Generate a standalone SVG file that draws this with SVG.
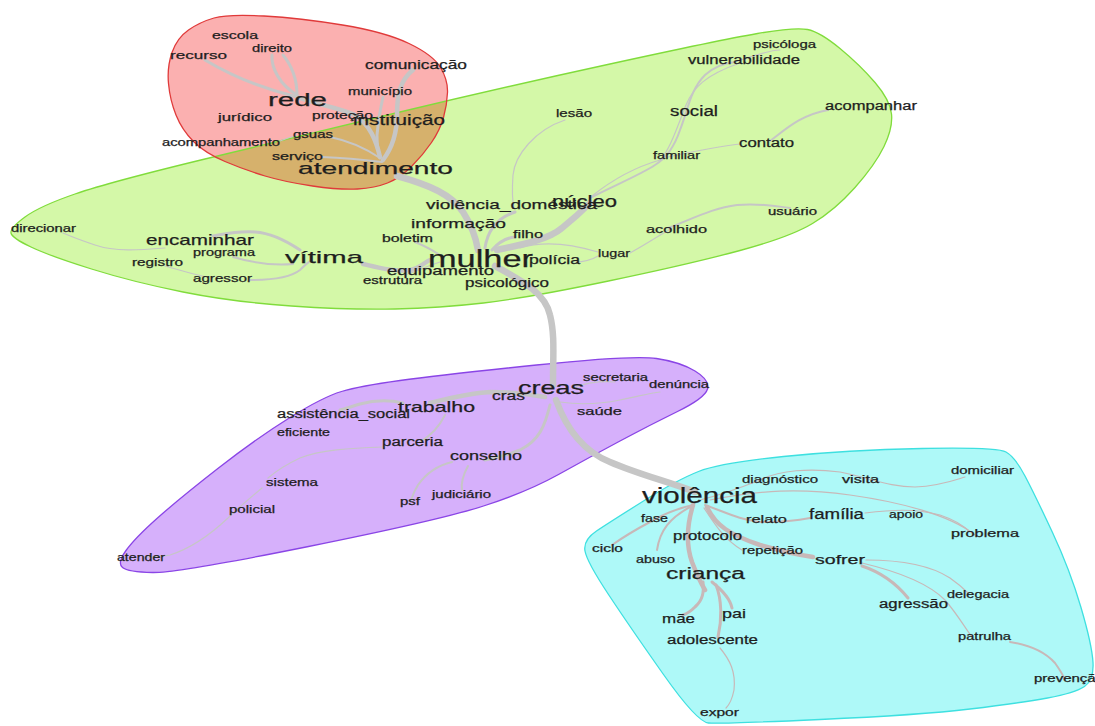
<svg xmlns="http://www.w3.org/2000/svg" width="1095" height="726" viewBox="0 0 1095 726">
<style>
text{font-family:"Liberation Sans",Arial,sans-serif;fill:#1e1e1e;stroke:#1e1e1e;stroke-width:0.25}
.e{fill:none;stroke:#c6c6c6;stroke-linecap:round}
.c .e{stroke:#c8b8b8}
.w1{stroke-width:1.2}.w2{stroke-width:2}.w3{stroke-width:3}.w4{stroke-width:4.5}.w6{stroke-width:6.5}
</style>
<defs>
<path id="gb" d="M 11,233 Q 10,228 25,217 Q 40,206 75,194 Q 110,182 205,159 Q 300,136 400,112 Q 500,88 610,64 Q 720,40 757.5,33.5 Q 795,27 807.5,29.5 Q 820,32 840,48.5 Q 860,65 875,82.5 Q 890,100 891.5,114 Q 893,128 884,146.5 Q 875,165 855,187.5 Q 835,210 812.5,223.5 Q 790,237 740,250.5 Q 690,264 608.5,281 Q 527,298 483.5,303 Q 440,308 395,309 Q 350,310 291.5,306 Q 233,302 183,292 Q 133,282 91.5,269 Q 50,256 31,247 Q 12,238 11,233 Z"/>
<path id="rb" d="M 168.5,83.5 Q 167,67 172,52.5 Q 177,38 188.5,30 Q 200,22 214,18 Q 228,14 264,16 Q 300,18 342.5,25 Q 385,32 409,43.5 Q 433,55 440.5,67.5 Q 448,80 447.5,92.5 Q 447,105 443.5,117.5 Q 440,130 431.5,142.5 Q 423,155 411.5,166.5 Q 400,178 387.5,183 Q 375,188 357.5,189 Q 340,190 312.5,186 Q 285,182 265,176 Q 245,170 225,161.5 Q 205,153 193.5,141.5 Q 182,130 176,115 Q 170,100 168.5,83.5 Z"/>
<clipPath id="gclip"><use href="#gb"/></clipPath>
</defs>
<rect width="1095" height="726" fill="#fff"/>
<g id="clusters">
<use href="#rb" fill="#fbb0b0"/>
<use href="#gb" fill="#d4f8a8"/>
<use href="#rb" fill="#d6b16c" clip-path="url(#gclip)"/>
<use href="#gb" fill="none" stroke="#80dc3c" stroke-width="1.3"/>
<use href="#rb" fill="none" stroke="#e03a3a" stroke-width="1.3"/>
<path d="M 126,550.5 Q 135,538 157.5,518 Q 180,498 218.5,468 Q 257,438 290,417.5 Q 323,397 341.5,391.5 Q 360,386 400,380.5 Q 440,375 536.5,365 Q 633,355 656.5,358.5 Q 680,362 695,371 Q 710,380 707.5,389 Q 705,398 677.5,411.5 Q 650,425 620,441 Q 590,457 558.5,474.5 Q 527,492 483.5,506 Q 440,520 308.5,546.5 Q 177,573 152.5,572.5 Q 128,572 122.5,567.5 Q 117,563 126,550.5 Z" fill="#d6b0fb" stroke="#8a45e6" stroke-width="1.3"/>
<path d="M 585,551 Q 583,540 596.5,531 Q 610,522 643.5,501 Q 677,480 698.5,471.5 Q 720,463 783.5,456.5 Q 847,450 922,448.5 Q 997,447 1006,452 Q 1015,457 1025,476 Q 1035,495 1052.5,532.5 Q 1070,570 1081,607.5 Q 1092,645 1093,662.5 Q 1094,680 1084.5,686.5 Q 1075,693 1047.5,698 Q 1020,703 970,709 Q 920,715 820,719.5 Q 720,724 708.5,723 Q 697,722 663.5,674.5 Q 630,627 608.5,594.5 Q 587,562 585,551 Z" fill="#aef9f8" stroke="#3ee0e0" stroke-width="1.3"/>
</g>
<g id="connectors">
<g>
<path class="e w3" d="M 205,60 C 230,75 260,88 297,97"/>
<path class="e w3" d="M 272,55 C 271,68 280,85 297,95"/>
<path class="e w3" d="M 283,55 C 292,66 297,80 297,95"/>
<path class="e w4" d="M 297,97 C 315,104 340,108 355,115 C 370,125 376,140 380,157"/>
<path class="e w4" d="M 413,70 C 400,80 397,95 397,115 C 397,135 392,148 383,160"/>
<path class="e w3" d="M 383,97 C 380,110 378,125 377,135 C 377,145 378,152 380,158"/>
<path class="e w2" d="M 330,137 C 345,140 362,146 380,158"/>
<path class="e w1" d="M 280,141 C 285,139 290,137 295,136"/>
<path class="e w2" d="M 322,157 C 345,158 365,160 382,162"/>
<path class="e w6" d="M 397,176 C 430,185 452,195 463,212 C 472,226 476,238 478,250"/>
<path class="e w6" d="M 495,266 C 520,280 545,292 550,315 C 555,335 553,355 553,385"/>
<path class="e w6" d="M 497,250 C 520,245 548,240 562,228 C 572,220 580,213 590,203"/>
<path class="e w2" d="M 590,198 C 615,185 640,175 655,165 C 668,157 675,145 680,130 C 688,110 690,90 705,75 C 715,66 725,63 735,62"/>
<path class="e w1" d="M 592,196 C 612,180 632,168 660,160 C 670,150 678,125 686,105 C 693,88 705,75 740,63"/>
<path class="e w1" d="M 668,157 C 700,150 720,146 740,144"/>
<path class="e w2" d="M 770,141 C 785,130 800,115 828,110"/>
<path class="e w1" d="M 735,62 C 755,55 770,50 780,50"/>
<path class="e w1" d="M 565,120 C 535,130 515,155 513,175 C 512,190 512,200 514,208"/>
<path class="e w3" d="M 515,212 C 500,217 488,228 485,248"/>
<path class="e w3" d="M 515,237 C 505,238 498,243 492,250"/>
<path class="e w2" d="M 415,242 C 425,246 432,250 440,255"/>
<path class="e w1" d="M 520,248 C 545,240 575,245 598,252"/>
<path class="e w1" d="M 575,262 C 585,262 595,258 600,255"/>
<path class="e w1" d="M 630,253 C 645,245 660,235 672,228"/>
<path class="e w2" d="M 668,228 C 690,220 712,208 737,205 C 760,203 775,206 790,208"/>
<path class="e w4" d="M 363,264 C 380,268 395,272 410,270 C 420,268 425,262 430,260"/>
<path class="e w1" d="M 405,275 C 420,270 430,265 440,262"/>
<path class="e w3" d="M 300,250 C 285,240 270,233 255,232 C 235,231 225,234 213,236"/>
<path class="e w1" d="M 165,248 C 140,250 115,252 95,245 C 80,240 70,236 63,233"/>
<path class="e w2" d="M 233,257 C 250,262 270,266 293,264"/>
<path class="e w2" d="M 250,280 C 270,280 290,278 300,270 C 305,265 308,262 312,260"/>
<path class="e w1" d="M 165,266 C 180,270 195,275 207,277"/>
</g>
<g>
<path class="e w6" d="M 556,400 C 565,425 580,450 610,462 C 640,475 670,482 695,492"/>
<path class="e w4" d="M 545,397 C 530,394 510,392 490,392 C 470,393 450,398 430,403"/>
<path class="e w3" d="M 403,403 C 390,400 375,400 360,404 C 350,407 345,409 340,410"/>
<path class="e w2" d="M 445,415 C 440,425 432,435 420,442"/>
<path class="e w1" d="M 383,447 C 350,448 320,450 300,458 C 285,465 275,472 268,478"/>
<path class="e w1" d="M 262,488 C 250,498 238,508 228,518 C 210,535 192,548 170,555 C 160,557 150,557 145,557"/>
<path class="e w3" d="M 550,405 C 545,425 540,440 520,450 C 505,456 495,458 485,460"/>
<path class="e w2" d="M 452,462 C 435,466 425,475 418,485 C 413,493 412,498 411,500"/>
<path class="e w2" d="M 468,466 C 463,475 461,483 462,490"/>
<path class="e w1" d="M 575,387 C 590,382 605,381 615,382"/>
<path class="e w1" d="M 560,402 C 580,405 600,404 620,400 C 640,396 650,393 660,392"/>
</g>
<g class="c">
<path class="e w4" d="M 693,505 C 687,525 686,545 692,562 C 697,575 702,585 705,590"/>
<path class="e w3" d="M 703,582 C 704,592 703,600 695,607 C 690,612 686,614 683,615"/>
<path class="e w3" d="M 712,582 C 722,590 730,598 732,608"/>
<path class="e w3" d="M 716,585 C 722,600 722,620 718,637"/>
<path class="e w1" d="M 720,648 C 730,660 736,672 734,690 C 732,700 728,706 726,708"/>
<path class="e w4" d="M 707,507 C 715,525 730,535 760,545 C 785,552 800,555 813,557"/>
<path class="e w3" d="M 862,566 C 880,572 895,582 908,598"/>
<path class="e w1" d="M 862,563 C 900,572 930,585 945,600 C 958,615 965,628 972,637"/>
<path class="e w1" d="M 866,560 C 900,560 930,565 950,578 C 960,585 965,590 968,593"/>
<path class="e w2" d="M 1010,642 C 1030,645 1045,652 1055,663 C 1060,670 1063,675 1065,680"/>
<path class="e w2" d="M 705,505 C 725,512 740,520 760,522 C 785,522 800,520 810,518"/>
<path class="e w1" d="M 865,513 C 890,510 915,508 940,515 C 955,520 963,525 970,532"/>
<path class="e w1" d="M 700,500 C 720,495 740,488 760,480 C 780,470 810,468 840,472 C 870,478 890,487 915,487 C 940,486 955,480 965,477"/>
<path class="e w1" d="M 710,500 C 760,490 800,488 850,495 C 900,502 950,515 975,535"/>
<path class="e w2" d="M 693,505 C 680,508 665,513 650,522 C 635,530 622,538 612,545"/>
<path class="e w2" d="M 690,507 C 670,518 660,530 657,550"/>
<path class="e w1" d="M 704,508 C 715,525 725,540 742,550"/>
</g>
</g>
<g id="nodes">
<g id="n-escola"><text x="212" y="39" font-size="11" textLength="46" lengthAdjust="spacingAndGlyphs">escola</text></g>
<g id="n-direito"><text x="252" y="52" font-size="10" textLength="40" lengthAdjust="spacingAndGlyphs">direito</text></g>
<g id="n-recurso"><text x="170" y="59" font-size="11" textLength="57" lengthAdjust="spacingAndGlyphs">recurso</text></g>
<g id="n-comunicacao"><text x="365" y="69" font-size="12" textLength="102" lengthAdjust="spacingAndGlyphs">comunicação</text></g>
<g id="n-municipio"><text x="348" y="95" font-size="11" textLength="64" lengthAdjust="spacingAndGlyphs">município</text></g>
<g id="n-rede"><text x="268" y="106" font-size="18" textLength="59" lengthAdjust="spacingAndGlyphs">rede</text></g>
<g id="n-juridico"><text x="218" y="121" font-size="11" textLength="54" lengthAdjust="spacingAndGlyphs">jurídico</text></g>
<g id="n-protecao"><text x="312" y="119" font-size="11" textLength="61" lengthAdjust="spacingAndGlyphs">proteção</text></g>
<g id="n-instituicao"><text x="353" y="125" font-size="14" textLength="92" lengthAdjust="spacingAndGlyphs">instituição</text></g>
<g id="n-gsuas"><text x="293" y="138" font-size="10" textLength="40" lengthAdjust="spacingAndGlyphs">gsuas</text></g>
<g id="n-acompanhamento"><text x="162" y="146" font-size="10" textLength="118" lengthAdjust="spacingAndGlyphs">acompanhamento</text></g>
<g id="n-servico"><text x="272" y="160" font-size="10" textLength="51" lengthAdjust="spacingAndGlyphs">serviço</text></g>
<g id="n-atendimento"><text x="298" y="174" font-size="17" textLength="155" lengthAdjust="spacingAndGlyphs">atendimento</text></g>
<g id="n-lesao"><text x="556" y="117" font-size="11" textLength="36" lengthAdjust="spacingAndGlyphs">lesão</text></g>
<g id="n-psicologa"><text x="753" y="48" font-size="10" textLength="63" lengthAdjust="spacingAndGlyphs">psicóloga</text></g>
<g id="n-vulnerabilidade"><text x="688" y="64" font-size="12" textLength="112" lengthAdjust="spacingAndGlyphs">vulnerabilidade</text></g>
<g id="n-social"><text x="670" y="116" font-size="14" textLength="48" lengthAdjust="spacingAndGlyphs">social</text></g>
<g id="n-acompanhar"><text x="825" y="110" font-size="12" textLength="92" lengthAdjust="spacingAndGlyphs">acompanhar</text></g>
<g id="n-contato"><text x="739" y="147" font-size="12" textLength="55" lengthAdjust="spacingAndGlyphs">contato</text></g>
<g id="n-familiar"><text x="653" y="159" font-size="10" textLength="47" lengthAdjust="spacingAndGlyphs">familiar</text></g>
<g id="n-violencia_domestica"><text x="426" y="209" font-size="13" textLength="171" lengthAdjust="spacingAndGlyphs">violência_doméstica</text></g>
<g id="n-nucleo"><text x="552" y="207" font-size="16" textLength="65" lengthAdjust="spacingAndGlyphs">núcleo</text></g>
<g id="n-usuario"><text x="768" y="215" font-size="10" textLength="49" lengthAdjust="spacingAndGlyphs">usuário</text></g>
<g id="n-acolhido"><text x="646" y="233" font-size="11" textLength="61" lengthAdjust="spacingAndGlyphs">acolhido</text></g>
<g id="n-direcionar"><text x="11" y="232" font-size="10" textLength="65" lengthAdjust="spacingAndGlyphs">direcionar</text></g>
<g id="n-encaminhar"><text x="146" y="245" font-size="15" textLength="108" lengthAdjust="spacingAndGlyphs">encaminhar</text></g>
<g id="n-programa"><text x="193" y="256" font-size="10" textLength="62" lengthAdjust="spacingAndGlyphs">programa</text></g>
<g id="n-registro"><text x="132" y="266" font-size="10" textLength="51" lengthAdjust="spacingAndGlyphs">registro</text></g>
<g id="n-agressor"><text x="193" y="282" font-size="11" textLength="59" lengthAdjust="spacingAndGlyphs">agressor</text></g>
<g id="n-vitima"><text x="285" y="263" font-size="17" textLength="78" lengthAdjust="spacingAndGlyphs">vítima</text></g>
<g id="n-informacao"><text x="411" y="228" font-size="13" textLength="95" lengthAdjust="spacingAndGlyphs">informação</text></g>
<g id="n-boletim"><text x="382" y="242" font-size="10" textLength="51" lengthAdjust="spacingAndGlyphs">boletim</text></g>
<g id="n-filho"><text x="513" y="238" font-size="11" textLength="30" lengthAdjust="spacingAndGlyphs">filho</text></g>
<g id="n-mulher"><text x="428" y="267" font-size="23" textLength="105" lengthAdjust="spacingAndGlyphs">mulher</text></g>
<g id="n-policia"><text x="529" y="264" font-size="12" textLength="51" lengthAdjust="spacingAndGlyphs">polícia</text></g>
<g id="n-lugar"><text x="598" y="257" font-size="11" textLength="32" lengthAdjust="spacingAndGlyphs">lugar</text></g>
<g id="n-equipamento"><text x="387" y="275" font-size="13" textLength="107" lengthAdjust="spacingAndGlyphs">equipamento</text></g>
<g id="n-estrutura"><text x="363" y="284" font-size="10" textLength="59" lengthAdjust="spacingAndGlyphs">estrutura</text></g>
<g id="n-psicologico"><text x="465" y="287" font-size="12" textLength="84" lengthAdjust="spacingAndGlyphs">psicológico</text></g>
<g id="n-creas"><text x="518" y="394" font-size="19" textLength="66" lengthAdjust="spacingAndGlyphs">creas</text></g>
<g id="n-secretaria"><text x="583" y="381" font-size="10" textLength="65" lengthAdjust="spacingAndGlyphs">secretaria</text></g>
<g id="n-denuncia"><text x="649" y="388" font-size="10" textLength="60" lengthAdjust="spacingAndGlyphs">denúncia</text></g>
<g id="n-cras"><text x="492" y="400" font-size="12" textLength="33" lengthAdjust="spacingAndGlyphs">cras</text></g>
<g id="n-saude"><text x="577" y="415" font-size="11" textLength="45" lengthAdjust="spacingAndGlyphs">saúde</text></g>
<g id="n-trabalho"><text x="398" y="412" font-size="15" textLength="77" lengthAdjust="spacingAndGlyphs">trabalho</text></g>
<g id="n-assistencia_social"><text x="277" y="418" font-size="12" textLength="133" lengthAdjust="spacingAndGlyphs">assistência_social</text></g>
<g id="n-eficiente"><text x="277" y="436" font-size="10" textLength="53" lengthAdjust="spacingAndGlyphs">eficiente</text></g>
<g id="n-parceria"><text x="382" y="446" font-size="12" textLength="61" lengthAdjust="spacingAndGlyphs">parceria</text></g>
<g id="n-conselho"><text x="450" y="460" font-size="13" textLength="72" lengthAdjust="spacingAndGlyphs">conselho</text></g>
<g id="n-sistema"><text x="266" y="486" font-size="11" textLength="52" lengthAdjust="spacingAndGlyphs">sistema</text></g>
<g id="n-policial"><text x="229" y="513" font-size="11" textLength="46" lengthAdjust="spacingAndGlyphs">policial</text></g>
<g id="n-psf"><text x="400" y="505" font-size="10" textLength="20" lengthAdjust="spacingAndGlyphs">psf</text></g>
<g id="n-judiciario"><text x="432" y="498" font-size="10" textLength="59" lengthAdjust="spacingAndGlyphs">judiciário</text></g>
<g id="n-atender"><text x="117" y="561" font-size="11" textLength="48" lengthAdjust="spacingAndGlyphs">atender</text></g>
<g id="n-violencia"><text x="642" y="503" font-size="22" textLength="115" lengthAdjust="spacingAndGlyphs">violência</text></g>
<g id="n-diagnostico"><text x="742" y="483" font-size="10.5" textLength="76" lengthAdjust="spacingAndGlyphs">diagnóstico</text></g>
<g id="n-visita"><text x="842" y="483" font-size="11" textLength="37" lengthAdjust="spacingAndGlyphs">visita</text></g>
<g id="n-domiciliar"><text x="951" y="474" font-size="10" textLength="63" lengthAdjust="spacingAndGlyphs">domiciliar</text></g>
<g id="n-fase"><text x="641" y="522" font-size="10.5" textLength="27" lengthAdjust="spacingAndGlyphs">fase</text></g>
<g id="n-relato"><text x="746" y="523" font-size="11.5" textLength="41" lengthAdjust="spacingAndGlyphs">relato</text></g>
<g id="n-familia"><text x="809" y="519" font-size="14" textLength="55" lengthAdjust="spacingAndGlyphs">família</text></g>
<g id="n-apoio"><text x="889" y="518" font-size="10" textLength="34" lengthAdjust="spacingAndGlyphs">apoio</text></g>
<g id="n-problema"><text x="951" y="537" font-size="11" textLength="68" lengthAdjust="spacingAndGlyphs">problema</text></g>
<g id="n-protocolo"><text x="673" y="540" font-size="12" textLength="69" lengthAdjust="spacingAndGlyphs">protocolo</text></g>
<g id="n-ciclo"><text x="592" y="552" font-size="10" textLength="31" lengthAdjust="spacingAndGlyphs">ciclo</text></g>
<g id="n-repeticao"><text x="742" y="554" font-size="10.5" textLength="61" lengthAdjust="spacingAndGlyphs">repetição</text></g>
<g id="n-sofrer"><text x="815" y="564" font-size="13" textLength="50" lengthAdjust="spacingAndGlyphs">sofrer</text></g>
<g id="n-abuso"><text x="636" y="563" font-size="10" textLength="39" lengthAdjust="spacingAndGlyphs">abuso</text></g>
<g id="n-crianca"><text x="666" y="579" font-size="16" textLength="79" lengthAdjust="spacingAndGlyphs">criança</text></g>
<g id="n-agressao"><text x="879" y="608" font-size="12" textLength="69" lengthAdjust="spacingAndGlyphs">agressão</text></g>
<g id="n-delegacia"><text x="947" y="598" font-size="10" textLength="62" lengthAdjust="spacingAndGlyphs">delegacia</text></g>
<g id="n-mae"><text x="662" y="623" font-size="13" textLength="33" lengthAdjust="spacingAndGlyphs">mãe</text></g>
<g id="n-pai"><text x="722" y="618" font-size="13" textLength="24" lengthAdjust="spacingAndGlyphs">pai</text></g>
<g id="n-adolescente"><text x="667" y="644" font-size="12" textLength="91" lengthAdjust="spacingAndGlyphs">adolescente</text></g>
<g id="n-patrulha"><text x="958" y="640" font-size="10" textLength="53" lengthAdjust="spacingAndGlyphs">patrulha</text></g>
<g id="n-prevencao"><text x="1034" y="682" font-size="10" textLength="70" lengthAdjust="spacingAndGlyphs">prevenção</text></g>
<g id="n-expor"><text x="700" y="716" font-size="11" textLength="39" lengthAdjust="spacingAndGlyphs">expor</text></g>
</g>
</svg>
